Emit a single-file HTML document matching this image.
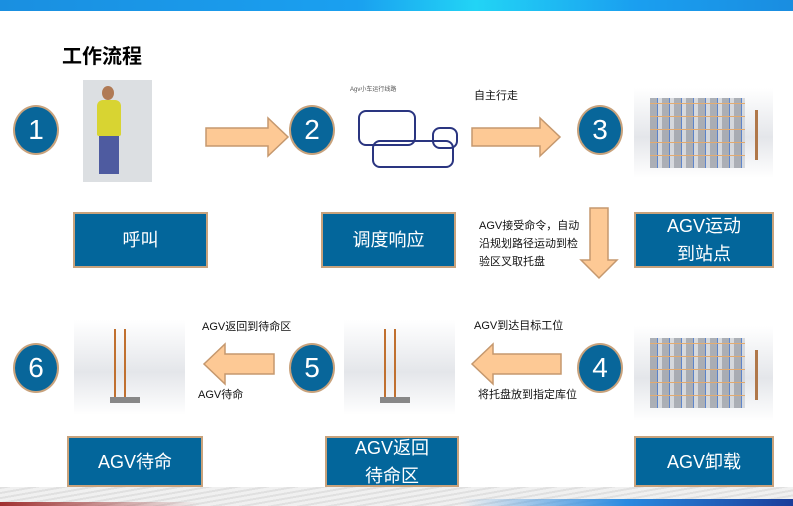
<!DOCTYPE html>
<html><head><meta charset="utf-8"><style>
*{margin:0;padding:0;box-sizing:border-box}
body{width:793px;height:506px;position:relative;overflow:hidden;background:#fff;font-family:"Liberation Sans","Noto Sans CJK SC",sans-serif}
.a{position:absolute}
.c{position:absolute;width:46px;height:50px;border-radius:50%;background:#08669a;border:2px solid #c8a27c;color:#fff;font-size:28px;text-align:center;line-height:46px}
.b{position:absolute;background:#03669b;border:2px solid #c8a27c;color:#fff;font-size:18px;text-align:center;display:flex;align-items:center;justify-content:center;line-height:28px}
.t{position:absolute;font-size:11px;color:#111;line-height:18px;white-space:nowrap}
.img{position:absolute;background:linear-gradient(#fff,#e4e6ea 55%,#fff)}
.rack{position:absolute;width:95px;height:70px;background:repeating-linear-gradient(0deg,transparent 0 12px,#e09a50 12px 13px),repeating-linear-gradient(90deg,#9a9ea6 0 7px,#3a6ac0 7px 8px,#d0d3d8 8px 12px);opacity:.8}
</style></head><body>
<div class="a" style="left:0;top:0;width:793px;height:11px;background:linear-gradient(90deg,#1a8fe0,#1aa0f0 45%,#22d4f5 60%,#1a9ff0 80%,#1a8de0)"></div>
<div class="a" style="left:62px;top:40px;font-size:20px;font-weight:bold;color:#000">工作流程</div>

<div class="c" style="left:13px;top:105px">1</div>
<div class="c" style="left:289px;top:105px">2</div>
<div class="c" style="left:577px;top:105px">3</div>
<div class="c" style="left:577px;top:343px">4</div>
<div class="c" style="left:289px;top:343px">5</div>
<div class="c" style="left:13px;top:343px">6</div>

<div class="a" style="left:83px;top:80px;width:69px;height:102px;background:#dcdfe2">
<div class="a" style="left:19px;top:6px;width:12px;height:14px;border-radius:50%;background:#b07a55"></div>
<div class="a" style="left:14px;top:20px;width:24px;height:36px;background:#d8d432;border-radius:6px 6px 2px 2px"></div>
<div class="a" style="left:16px;top:56px;width:20px;height:38px;background:#4e5ba0"></div>
</div>

<div class="a" style="left:350px;top:85px;width:110px;height:95px">
<div class="t" style="left:0;top:-4px;font-size:6px;color:#555">Agv小车运行线路</div>
<div class="a" style="left:8px;top:25px;width:58px;height:36px;border:2px solid #2a3580;border-radius:8px"></div>
<div class="a" style="left:22px;top:55px;width:82px;height:28px;border:2px solid #2a3580;border-radius:8px"></div>
<div class="a" style="left:82px;top:42px;width:26px;height:22px;border:2px solid #2a3580;border-radius:8px"></div>
</div>

<div class="img" style="left:634px;top:88px;width:139px;height:90px"></div>
<div class="rack" style="left:650px;top:98px"></div>
<div class="a" style="left:755px;top:110px;width:3px;height:50px;background:#b0784a"></div>
<div class="img" style="left:634px;top:326px;width:139px;height:95px"></div>
<div class="rack" style="left:650px;top:338px"></div>
<div class="a" style="left:755px;top:350px;width:3px;height:50px;background:#b0784a"></div>

<div class="img" style="left:74px;top:320px;width:111px;height:95px"></div>
<div class="a" style="left:114px;top:329px;width:2px;height:70px;background:#c07030"></div>
<div class="a" style="left:124px;top:329px;width:2px;height:70px;background:#c07030"></div>
<div class="a" style="left:110px;top:397px;width:30px;height:6px;background:#888"></div>
<div class="img" style="left:344px;top:320px;width:111px;height:95px"></div>
<div class="a" style="left:384px;top:329px;width:2px;height:70px;background:#c07030"></div>
<div class="a" style="left:394px;top:329px;width:2px;height:70px;background:#c07030"></div>
<div class="a" style="left:380px;top:397px;width:30px;height:6px;background:#888"></div>

<svg class="a" style="left:0;top:0" width="793" height="506">
<g fill="#fdc995" stroke="#c5986e" stroke-width="1.5">
<polygon points="206,128 268,128 268,118 288,137 268,156 268,146 206,146"/>
<polygon points="472,128 540,128 540,118 560,137 540,156 540,146 472,146"/>
<polygon points="590,208 608,208 608,260 617,260 599,278 581,260 590,260"/>
<polygon points="561,354 493,354 493,344 472,364 493,384 493,374 561,374"/>
<polygon points="274,354 225,354 225,344 204,364 225,384 225,374 274,374"/>
</g></svg>

<div class="b" style="left:73px;top:212px;width:135px;height:56px">呼叫</div>
<div class="b" style="left:321px;top:212px;width:135px;height:56px">调度响应</div>
<div class="b" style="left:634px;top:212px;width:140px;height:56px">AGV运动<br>到站点</div>
<div class="b" style="left:67px;top:436px;width:136px;height:51px">AGV待命</div>
<div class="b" style="left:325px;top:436px;width:134px;height:51px">AGV返回<br>待命区</div>
<div class="b" style="left:634px;top:436px;width:140px;height:51px">AGV卸载</div>

<div class="t" style="left:474px;top:87px">自主行走</div>
<div class="t" style="left:479px;top:217px">AGV接受命令，自动<br>沿规划路径运动到检<br>验区叉取托盘</div>
<div class="t" style="left:474px;top:317px">AGV到达目标工位</div>
<div class="t" style="left:478px;top:386px">将托盘放到指定库位</div>
<div class="t" style="left:202px;top:318px">AGV返回到待命区</div>
<div class="t" style="left:198px;top:386px">AGV待命</div>

<div class="a" style="left:0;top:487px;width:793px;height:19px;background:repeating-linear-gradient(170deg,#e0e0e0 0 2px,#f0f0f0 2px 5px)"></div>
<div class="a" style="left:0;top:502px;width:200px;height:4px;background:linear-gradient(90deg,#a03030,rgba(160,48,48,0))"></div>
<div class="a" style="left:460px;top:499px;width:333px;height:7px;background:linear-gradient(90deg,rgba(40,140,220,0),#2a8ae0 50%,#1a3d9a)"></div>
</body></html>
